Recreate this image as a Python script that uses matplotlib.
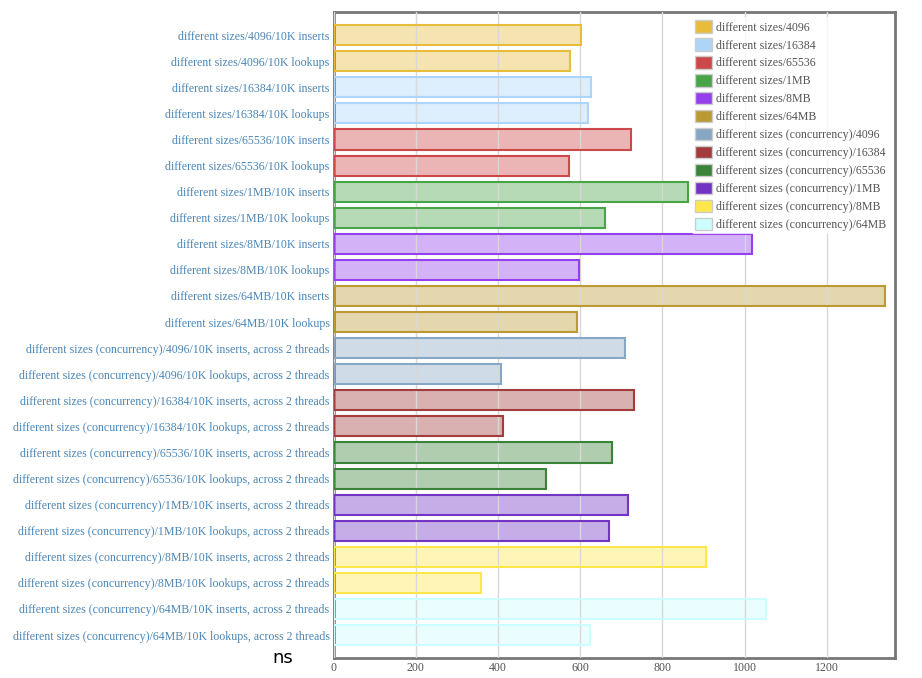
import matplotlib
matplotlib.use("Agg")
import matplotlib.pyplot as plt
from matplotlib.patches import Patch

series = ["different sizes/4096", "different sizes/16384", "different sizes/65536",
          "different sizes/1MB", "different sizes/8MB", "different sizes/64MB",
          "different sizes (concurrency)/4096", "different sizes (concurrency)/16384",
          "different sizes (concurrency)/65536", "different sizes (concurrency)/1MB",
          "different sizes (concurrency)/8MB", "different sizes (concurrency)/64MB"]
colors = ["#e8bd3c", "#acd5f8", "#cd4848", "#47a447", "#9440ed", "#bc9a33",
          "#87a7c4", "#a33c3c", "#3a843a", "#7234c4", "#ffe74b", "#ccfdff"]

inserts = [602, 627, 724, 862, 1018, 1341, 709, 731, 678, 717, 906, 1052]
lookups = [576, 619, 573, 661, 598, 593, 406, 413, 517, 670, 359, 624]

labels = []
values = []
bar_colors = []
for i, s in enumerate(series):
    if "concurrency" in s:
        labels.append(s + "/10K inserts, across 2 threads")
        labels.append(s + "/10K lookups, across 2 threads")
    else:
        labels.append(s + "/10K inserts")
        labels.append(s + "/10K lookups")
    values += [inserts[i], lookups[i]]
    bar_colors += [colors[i], colors[i]]

serif = "Liberation Serif"

fig = plt.figure(figsize=(9.22, 6.78), dpi=100)
ax = fig.add_axes([0.362, 0.0295, 0.609, 0.9525])

ypos = list(range(len(values)))
for y, v, c in zip(ypos, values, bar_colors):
    ax.barh(y, v, height=0.77, color=c, alpha=0.4, zorder=2)
    ax.barh(y, v, height=0.77, facecolor="none", edgecolor=c, linewidth=1.5, zorder=3)

ax.set_ylim(len(values) - 0.5 + 0.38, -0.5 - 0.38)
ax.set_xlim(0, 1367)
ax.set_yticks(ypos)
ax.set_yticklabels(labels, fontfamily=serif, fontsize=8.6, color="#4a86b8")
ax.set_xticks([0, 200, 400, 600, 800, 1000, 1200])
ax.set_xticklabels(["0", "200", "400", "600", "800", "1000", "1200"],
                   fontfamily=serif, fontsize=8.6, color="#555555")
ax.tick_params(axis="both", length=0, pad=3)
ax.grid(axis="x", color="#d8d8d8", linewidth=1, zorder=4)
ax.set_axisbelow(False)
for sp in ax.spines.values():
    sp.set_color("#777777")
    sp.set_linewidth(2)

handles = [Patch(facecolor=c, edgecolor="#cccccc", linewidth=1) for c in colors]
leg = ax.legend(handles, series, loc="upper right", bbox_to_anchor=(1.001, 1.002),
                prop={"family": serif, "size": 8.6}, frameon=True, framealpha=0.8,
                edgecolor="none", handlelength=1.4, handleheight=1.2,
                handletextpad=0.35, labelspacing=0.40, borderpad=0.3)
leg.get_frame().set_facecolor("white")
leg.set_zorder(10)
for t in leg.get_texts():
    t.set_color("#555555")

fig.text(0.307, 0.0295, "ns", fontsize=13, color="black", ha="center", va="center",
         fontfamily="DejaVu Sans")

fig.savefig("out.png", dpi=100)
